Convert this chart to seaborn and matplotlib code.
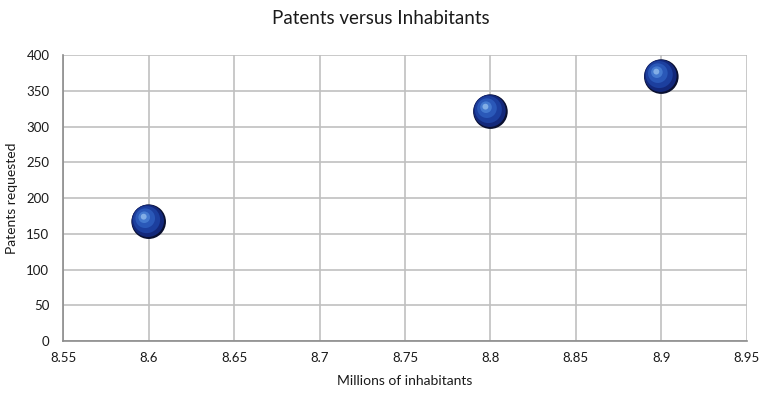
import matplotlib
matplotlib.use("Agg")
import matplotlib.pyplot as plt
import matplotlib.transforms as mtransforms
import seaborn as sns
import pandas as pd

inhabitants = [8.6, 8.8, 8.9]
patents = [167, 321, 370]
x_ticks = [8.55, 8.6, 8.65, 8.7, 8.75, 8.8, 8.85, 8.9, 8.95]
x_labels = ["8.55", "8.6", "8.65", "8.7", "8.75", "8.8", "8.85", "8.9", "8.95"]
y_ticks = [0, 50, 100, 150, 200, 250, 300, 350, 400]

sns.set_theme(style="white")
plt.rcParams['font.family'] = ['Lato', 'DejaVu Sans']

df = pd.DataFrame({"x": inhabitants, "y": patents})

fig = plt.figure(figsize=(7.62, 3.97), dpi=100)
ax = fig.add_axes([0.083, 0.141, 0.897, 0.72])

# sphere-like markers: layered circles
layers = [
    (620, "#0a1030", 0, 0),
    (540, "#13287a", -0.6, 0.6),
    (380, "#1c3f9e", -1.5, 1.5),
    (200, "#2a58b8", -2.5, 2.5),
    (70, "#4479cf", -3.2, 3.2),
    (18, "#82aee6", -3.6, 3.6),
]
for size, col, dx, dy in layers:
    off = mtransforms.ScaledTranslation(dx / 72, dy / 72, fig.dpi_scale_trans)
    sns.scatterplot(data=df, x="x", y="y", s=size, color=col, edgecolor="none",
                    ax=ax, zorder=3, legend=False,
                    transform=ax.transData + off)

ax.set_xlim(8.55, 8.95)
ax.set_ylim(0, 400)
ax.set_xticks(x_ticks)
ax.set_xticklabels(x_labels)
ax.set_yticks(y_ticks)
ax.grid(True, color="#c0c0c0", linewidth=1.2)
ax.set_axisbelow(True)
for side in ["top", "right"]:
    ax.spines[side].set_visible(False)
for side in ["left", "bottom"]:
    ax.spines[side].set_color("#8c8c8c")
    ax.spines[side].set_linewidth(1.2)
ax.tick_params(axis="both", length=0, labelsize=9.5, colors="#1a1a1a", pad=8)
ax.tick_params(axis="y", pad=10)

ax.set_xlabel("Millions of inhabitants", fontsize=10, color="#1a1a1a", labelpad=8)
ax.set_ylabel("Patents requested", fontsize=10, color="#1a1a1a", labelpad=6)
fig.suptitle("Patents versus Inhabitants", fontsize=13.5, color="#1a1a1a", y=0.975)

fig.savefig("out.png", dpi=100)
